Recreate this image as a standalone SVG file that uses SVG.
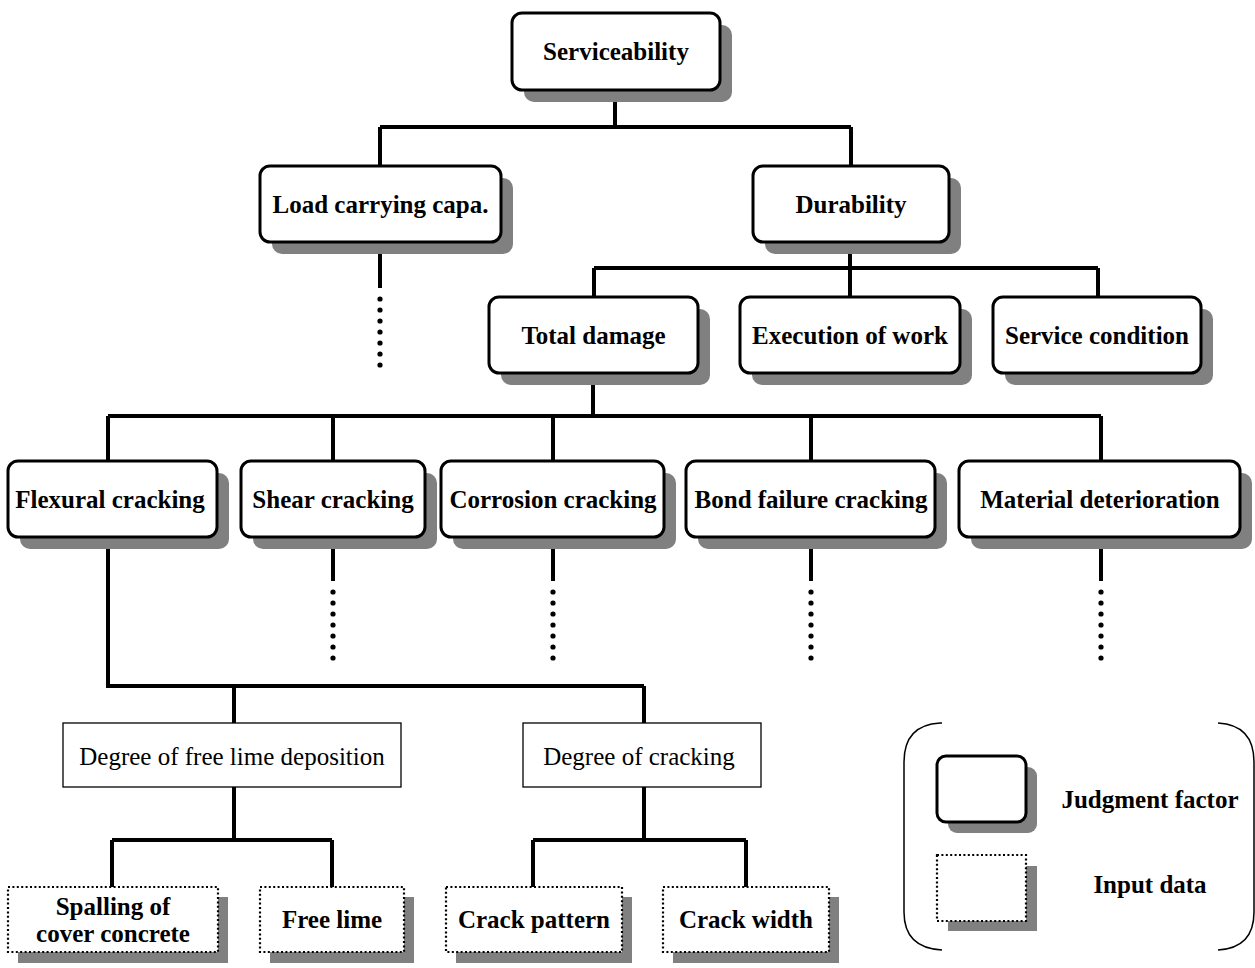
<svg xmlns="http://www.w3.org/2000/svg" width="1255" height="968" viewBox="0 0 1255 968">
<style>
.sh{fill:#808080}
.jf{fill:#fff;stroke:#000;stroke-width:3}
.id{fill:#fff;stroke:#000;stroke-width:2.2;stroke-dasharray:2 2.4}
.pl{fill:#fff;stroke:#000;stroke-width:1.3}
.b{font-family:"Liberation Serif","Times New Roman",serif;font-weight:bold;font-size:25px;text-anchor:middle}
.r{font-family:"Liberation Serif","Times New Roman",serif;font-size:25px;text-anchor:middle}
.c{fill:none;stroke:#000;stroke-width:4}
.dot{fill:#000}
</style>
<defs>
<g id="dots"><circle cx="0" cy="0" r="2.6"/><circle cx="0" cy="11" r="2.6"/><circle cx="0" cy="22" r="2.6"/><circle cx="0" cy="33" r="2.6"/><circle cx="0" cy="44" r="2.6"/><circle cx="0" cy="55" r="2.6"/><circle cx="0" cy="66" r="2.6"/></g>
</defs>
<g id="connectors">
<path class="c" d="M615 90V127M380 127H851M380 127V166M851 127V166"/>
<path class="c" d="M380 242V288"/>
<use href="#dots" x="380" y="299" class="dot"/>
<path class="c" d="M850 242V297M594 268H1098M594 268V297M1098 268V297"/>
<path class="c" d="M593 373V416M108 416H1101M108 416V461M333 416V461M553 416V461M811 416V461M1101 416V461"/>
<path class="c" d="M333 537V581M553 537V581M811 537V581M1101 537V581"/>
<use href="#dots" x="333" y="592" class="dot"/>
<use href="#dots" x="553" y="592" class="dot"/>
<use href="#dots" x="811" y="592" class="dot"/>
<use href="#dots" x="1101" y="592" class="dot"/>
<path class="c" d="M108 537V686H644M234 686V723M644 686V723"/>
<path class="c" d="M234 787V840M112 840H332M112 840V887M332 840V887"/>
<path class="c" d="M644 787V840M533 840H746M533 840V887M746 840V887"/>
</g>
<g id="serviceability"><rect class="sh" x="524" y="25" width="208" height="77" rx="10"/><rect class="jf" x="512" y="13" width="208" height="77" rx="10"/><text class="b" x="616" y="60">Serviceability</text></g>
<g id="load"><rect class="sh" x="272" y="178" width="241" height="76" rx="10"/><rect class="jf" x="260" y="166" width="241" height="76" rx="10"/><text class="b" x="380.5" y="213">Load carrying capa.</text></g>
<g id="durability"><rect class="sh" x="765" y="178" width="196" height="76" rx="10"/><rect class="jf" x="753" y="166" width="196" height="76" rx="10"/><text class="b" x="851" y="213">Durability</text></g>
<g id="total"><rect class="sh" x="501" y="309" width="209" height="76" rx="10"/><rect class="jf" x="489" y="297" width="209" height="76" rx="10"/><text class="b" x="593.5" y="344">Total damage</text></g>
<g id="execution"><rect class="sh" x="752" y="309" width="220" height="76" rx="10"/><rect class="jf" x="740" y="297" width="220" height="76" rx="10"/><text class="b" x="850" y="344">Execution of work</text></g>
<g id="service"><rect class="sh" x="1005" y="309" width="208" height="76" rx="10"/><rect class="jf" x="993" y="297" width="208" height="76" rx="10"/><text class="b" x="1097" y="344">Service condition</text></g>
<g id="flexural"><rect class="sh" x="20" y="473" width="209" height="76" rx="10"/><rect class="jf" x="8" y="461" width="209" height="76" rx="10"/><text class="b" x="110" y="508">Flexural cracking</text></g>
<g id="shear"><rect class="sh" x="253" y="473" width="184" height="76" rx="10"/><rect class="jf" x="241" y="461" width="184" height="76" rx="10"/><text class="b" x="333" y="508">Shear cracking</text></g>
<g id="corrosion"><rect class="sh" x="453" y="473" width="223" height="76" rx="10"/><rect class="jf" x="441" y="461" width="223" height="76" rx="10"/><text class="b" x="553" y="508">Corrosion cracking</text></g>
<g id="bond"><rect class="sh" x="698" y="473" width="249" height="76" rx="10"/><rect class="jf" x="686" y="461" width="249" height="76" rx="10"/><text class="b" x="811" y="508">Bond failure cracking</text></g>
<g id="material"><rect class="sh" x="971" y="473" width="281" height="76" rx="10"/><rect class="jf" x="959" y="461" width="281" height="76" rx="10"/><text class="b" x="1100" y="508">Material deterioration</text></g>
<g id="freelimedeg"><rect class="pl" x="63" y="723" width="338" height="64"/><text class="r" x="232" y="765">Degree of free lime deposition</text></g>
<g id="crackdeg"><rect class="pl" x="523" y="723" width="238" height="64"/><text class="r" x="639" y="765">Degree of cracking</text></g>
<g id="spalling"><rect class="sh" x="18" y="897" width="210" height="66"/><rect class="id" x="8" y="887" width="210" height="65"/><text class="b" x="113" y="915">Spalling of</text><text class="b" x="113" y="942">cover concrete</text></g>
<g id="freelime"><rect class="sh" x="270" y="897" width="144" height="66"/><rect class="id" x="260" y="887" width="144" height="65"/><text class="b" x="332" y="928">Free lime</text></g>
<g id="crackpattern"><rect class="sh" x="456" y="897" width="176" height="66"/><rect class="id" x="446" y="887" width="176" height="65"/><text class="b" x="534" y="928">Crack pattern</text></g>
<g id="crackwidth"><rect class="sh" x="673" y="897" width="166" height="66"/><rect class="id" x="663" y="887" width="166" height="65"/><text class="b" x="746" y="928">Crack width</text></g>
<g id="legend">
<path d="M942 723H940Q904 725 904 762V912Q904 948 942 950" fill="none" stroke="#000" stroke-width="1.5"/>
<path d="M1218 723Q1254 725 1254 762V912Q1254 948 1218 950" fill="none" stroke="#000" stroke-width="1.5"/>
<rect class="sh" x="948" y="767" width="89" height="66" rx="9"/><rect class="jf" x="937" y="756" width="89" height="66" rx="9"/>
<text class="b" x="1150" y="808">Judgment factor</text>
<rect class="sh" x="948" y="866" width="89" height="65"/><rect class="id" x="937" y="855" width="89" height="66"/>
<text class="b" x="1150" y="893">Input data</text>
</g>
</svg>
